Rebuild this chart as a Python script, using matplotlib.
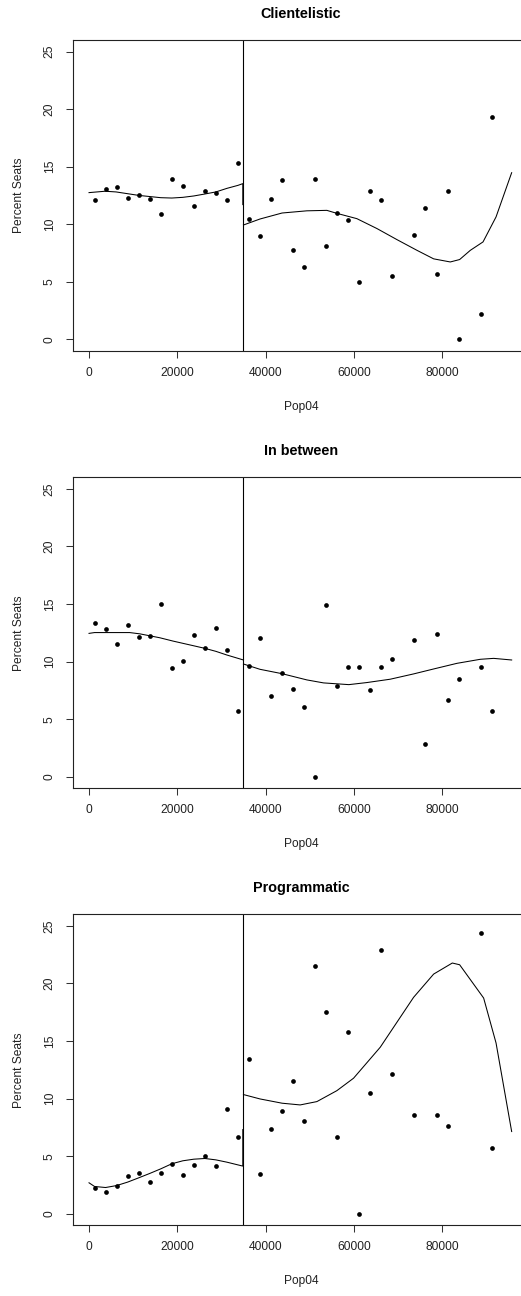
import matplotlib
matplotlib.use("Agg")
import matplotlib.pyplot as plt

# binned means of Percent Seats against Pop04, three party types
titles = ["Clientelistic", "In between", "Programmatic"]

pop_a = [1250, 3750, 6250, 8750, 11250, 13750, 16250, 18750, 21250, 23750,
         26250, 28750, 31250, 33750, 36250, 38750, 41250, 43750, 46250, 48750,
         51250, 53750, 56250, 58750, 61250, 63750, 66250, 68750, 73750, 76250,
         78750, 81250, 83750, 88750, 91250]
pop_c = [1250, 3750, 6250, 8750, 11250, 13750, 16250, 18750, 21250, 23750,
         26250, 28750, 31250, 33750, 36250, 38750, 41250, 43750, 46250, 48750,
         51250, 53750, 56250, 58750, 61250, 63750, 66250, 68750, 73750, 78750,
         81250, 88750, 91250]

seats_clien = [12.14, 13.10, 13.24, 12.28, 12.51, 12.17, 10.90, 13.93, 13.32, 11.56,
               12.89, 12.75, 12.14, 15.35, 10.43, 8.96, 12.23, 13.84, 7.81, 6.33,
               13.93, 8.09, 10.95, 10.38, 4.97, 12.89, 12.14, 5.55, 9.11, 11.42,
               5.72, 12.89, 0.0, 2.17, 19.34]
seats_betw = [13.34, 12.82, 11.49, 13.19, 12.15, 12.24, 15.04, 9.42, 10.03, 12.30,
              11.20, 12.90, 10.98, 5.73, 9.65, 12.01, 7.00, 8.99, 7.66, 6.10,
              0.0, 14.95, 7.92, 9.51, 9.51, 7.57, 9.51, 10.22, 11.87, 2.85,
              12.39, 6.68, 8.52, 9.51, 5.73]
seats_prog = [2.28, 1.85, 2.45, 3.27, 3.56, 2.75, 3.56, 4.28, 3.36, 4.22,
              5.03, 4.14, 9.11, 6.65, 13.42, 3.47, 7.40, 8.96, 11.53, 8.07,
              21.53, 17.55, 6.65, 15.76, 0.0, 10.52, 22.87, 12.14, 8.59, 8.59,
              7.63, 24.35, 5.70]

# fitted curves either side of the 35000 cutoff
fitL_x_clien = [0, 3630, 6120, 11250, 16250, 18750, 21250, 23750, 26250, 28750, 31250, 33750, 34850, 34850]
fitL_y_clien = [12.75, 12.87, 12.81, 12.51, 12.31, 12.28, 12.34, 12.46, 12.63, 12.81, 13.12, 13.38, 13.53, 11.71]
fitR_x_clien = [35000, 38750, 43750, 49370, 53900, 56170, 60700, 65250, 69780, 74320, 78100, 81870, 83990, 86410, 89290, 92240, 95780]
fitR_y_clien = [9.94, 10.46, 10.98, 11.17, 11.21, 10.95, 10.49, 9.63, 8.67, 7.74, 7.00, 6.73, 6.94, 7.74, 8.47, 10.64, 14.48]

fitL_x_betw = [0, 1250, 9220, 11500, 16030, 19050, 23750, 26250, 28750, 31250, 35000]
fitL_y_betw = [12.45, 12.52, 12.52, 12.41, 12.07, 11.78, 11.37, 11.15, 10.89, 10.57, 10.14]
fitR_x_betw = [35000, 38750, 43750, 49370, 53150, 58880, 62960, 68250, 73550, 78100, 83390, 88680, 91700, 95780]
fitR_y_betw = [9.79, 9.33, 8.95, 8.41, 8.15, 8.00, 8.18, 8.47, 8.93, 9.36, 9.85, 10.20, 10.28, 10.14]

fitL_x_prog = [0, 1250, 3750, 6250, 8750, 11250, 13750, 16250, 18750, 21250, 23750, 26250, 28750, 31250, 34850, 34850]
fitL_y_prog = [2.69, 2.37, 2.28, 2.45, 2.75, 3.12, 3.50, 3.90, 4.34, 4.60, 4.74, 4.80, 4.68, 4.48, 4.14, 7.31]
fitR_x_prog = [35000, 38750, 43750, 47850, 51640, 56170, 59950, 66000, 73550, 78100, 82330, 83990, 89430, 92240, 95780]
fitR_y_prog = [10.35, 9.97, 9.60, 9.45, 9.74, 10.69, 11.77, 14.46, 18.79, 20.81, 21.77, 21.62, 18.73, 14.83, 7.14]

cutoff = 35000
xticks = [0, 20000, 40000, 60000, 80000]
yticks = [0, 5, 10, 15, 20, 25]

panels = [
    (pop_a, seats_clien, fitL_x_clien, fitL_y_clien, fitR_x_clien, fitR_y_clien),
    (pop_a, seats_betw, fitL_x_betw, fitL_y_betw, fitR_x_betw, fitR_y_betw),
    (pop_c, seats_prog, fitL_x_prog, fitL_y_prog, fitR_x_prog, fitR_y_prog),
]

plt.rcParams['font.family'] = ['Liberation Sans', 'DejaVu Sans']
W, H = 521, 1296
fig = plt.figure(figsize=(W / 100, H / 100), dpi=100)

tops = [40, 477.3, 914.3]   # pixel rows of the box tops
box_h = 311
left_px, width_px = 72.7, 456.7
pt = 0.72  # points per pixel at 100 dpi

for i, (px, py, lx, ly, rx, ry) in enumerate(panels):
    bottom = 1 - (tops[i] + box_h) / H
    ax = fig.add_axes([left_px / W, bottom, width_px / W, box_h / H])
    ax.plot(px, py, 'o', color='black', ms=3.4, mew=0)
    ax.plot(lx, ly, color='black', lw=0.75)
    ax.plot(rx, ry, color='black', lw=0.75)
    ax.axvline(cutoff, color='black', lw=0.8)
    ax.set_xlim(-3700, 99800)
    ax.set_ylim(-1, 26)
    ax.set_xticks(xticks)
    ax.set_xticklabels([str(t) for t in xticks])
    ax.set_yticks(yticks)
    ax.set_yticklabels([str(t) for t in yticks], rotation=90, va='center')
    ax.tick_params(direction='out', length=7 * pt, width=0.75, labelsize=12 * pt,
                   color='#333333', labelcolor='#222222')
    ax.tick_params(axis='x', pad=9 * pt)
    ax.tick_params(axis='y', pad=10 * pt)
    for s in ax.spines.values():
        s.set_linewidth(0.8)
        s.set_color('#222222')
    ax.spines['right'].set_visible(False)
    ax.annotate(titles[i], xy=(0.5, 1), xycoords='axes fraction',
                xytext=(0, 26 * pt), textcoords='offset points',
                ha='center', va='center', fontsize=14.4 * pt, fontweight='bold')
    ax.annotate('Pop04', xy=(0.5, 0), xycoords='axes fraction',
                xytext=(0, -55.7 * pt), textcoords='offset points',
                ha='center', va='center', fontsize=12 * pt, color='#222222')
    ax.annotate('Percent Seats', xy=(0, 0.5), xycoords='axes fraction',
                xytext=(-54 * pt, 0), textcoords='offset points',
                ha='center', va='center', rotation=90, fontsize=12 * pt,
                color='#222222')

fig.savefig('out.png', dpi=100)
